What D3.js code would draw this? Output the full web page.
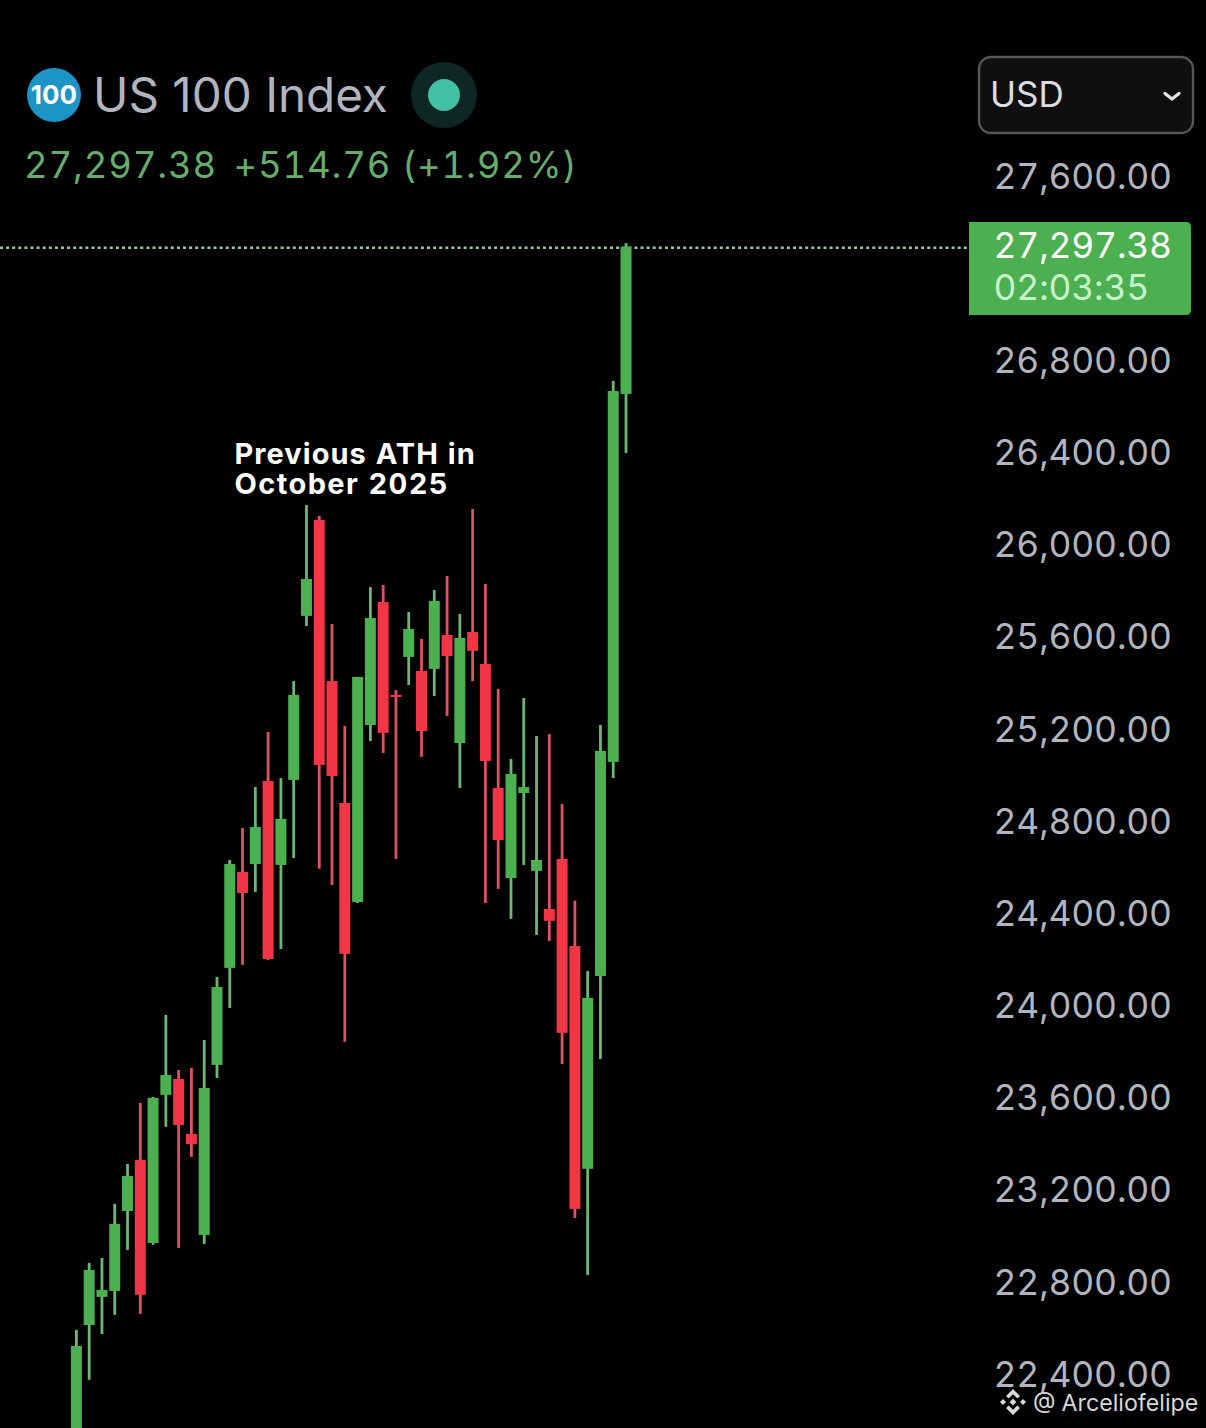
<!DOCTYPE html>
<html><head><meta charset="utf-8">
<script src="https://cdn.jsdelivr.net/npm/d3@7/dist/d3.min.js"></script>
<style>html,body{margin:0;padding:0;background:#000;overflow:hidden}svg{display:block}
text{font-family:Inter,Roboto,sans-serif!important;font-variant-numeric:tabular-nums;font-feature-settings:"tnum" 1}</style></head><body>
<svg id="c" width="1206" height="1428"></svg>
<script>
const opens =[22118,22617,22739,22765,23112,23334,22973,23616,23685,23446,23008,23746,24167,24584,24618,24978,24614,24983,25695,26111,25412,24883,24453,25221,25755,25352,25517,25456,25465,25612,25143,25625,25486,24948,24557,24926,24588,24423,24640,24262,23295,24132,25061,26658];
const closes=[22526,22856,22769,23056,23264,22748,23603,23702,23485,23403,23646,24084,24618,24492,24779,24206,24814,25352,25855,25048,25000,24228,25430,25686,25187,25343,25638,25195,25760,25521,25599,25543,25065,24722,25009,24952,24636,24371,23885,23121,24037,25109,26671,27297.38];
const highs =[22596,22887,22908,23143,23316,23581,23607,23963,23724,23733,23854,24128,24636,24774,24952,25191,24991,25412,26176,26129,25660,25217,25430,25820,25829,25373,25712,25595,25807,25868,25703,26159,25833,25378,25074,25339,25174,25182,24879,24458,24154,25221,26714,27313];
const lows  =[22075,22379,22578,22661,22943,22665,22965,23477,22952,23347,22969,23689,23993,24180,24497,24202,24249,24644,25651,24597,24527,23846,24449,25152,25100,24640,25395,25083,25347,25261,24948,25412,24449,24510,24380,24614,24310,24284,23750,23082,22834,23772,24991,26402];
const priceTicks=[27600,26800,26400,26000,25600,25200,24800,24400,24000,23600,23200,22800,22400];
const lastPrice=27297.38;
const titleText="US 100 Index";
const quoteText="27,297.38";
const changeText="+514.76 (+1.92%)";
const countdown="02:03:35";
const noteLines=["Previous ATH in","October 2025"];

const W=1206,H=1428;
const up="#4caf50",down="#f23645",upWick="#6db676",downWick="#dc5363";
const svg=d3.select("#c");
svg.append("rect").attr("width",W).attr("height",H).attr("fill","#000");

const y=d3.scaleLinear().domain([22400,27600]).range([1375,177]);
const x=d3.scaleBand().domain(d3.range(opens.length)).range([70,632.4]).paddingInner(0.14).paddingOuter(0.07);
const candles=opens.map((o,i)=>({i,o,c:closes[i],h:highs[i],l:lows[i]}));

// last price guide
svg.append("line").attr("x1",0).attr("x2",969).attr("y1",y(lastPrice)+1).attr("y2",y(lastPrice)+1)
  .attr("stroke","#97c79d").attr("stroke-width",2.4).attr("stroke-dasharray","3 3.1");

// candles
const g=svg.append("g").selectAll("g").data(candles).join("g");
g.append("line")
  .attr("x1",d=>x(d.i)+x.bandwidth()/2).attr("x2",d=>x(d.i)+x.bandwidth()/2)
  .attr("y1",d=>y(d.h)).attr("y2",d=>y(d.l))
  .attr("stroke",d=>d.c>=d.o?upWick:downWick).attr("stroke-width",2.8);
g.append("rect")
  .attr("x",d=>x(d.i)).attr("width",x.bandwidth())
  .attr("y",d=>y(Math.max(d.o,d.c)))
  .attr("height",d=>Math.max(2,Math.abs(y(d.o)-y(d.c))))
  .attr("fill",d=>d.c>=d.o?up:down);

// price axis
const axis=d3.axisRight(y).tickValues(priceTicks).tickSize(0).tickPadding(0).tickFormat(d3.format(",.2f"));
const ag=svg.append("g").attr("transform","translate(993.5,-1.6)").call(axis);
ag.select(".domain").remove();
ag.selectAll("text").attr("fill","#b2b5be").attr("font-size",35.5).attr("dy","0.36em").attr("letter-spacing",-0.2);

// price tag
const tag=d3.path();tag.moveTo(969,222);tag.lineTo(1186,222);tag.quadraticCurveTo(1191,222,1191,227);tag.lineTo(1191,310);tag.quadraticCurveTo(1191,315,1186,315);tag.lineTo(969,315);tag.closePath();
svg.append("path").attr("d",tag.toString()).attr("fill",up);
svg.append("text").attr("x",993.5).attr("y",258).attr("fill","#fff").attr("font-size",35.5).attr("letter-spacing",-0.2).text(d3.format(",.2f")(lastPrice));
svg.append("text").attr("x",993.5).attr("y",300).attr("fill","#c9f2cc").attr("font-size",35.5).attr("letter-spacing",-0.2).text(countdown);

// currency select
svg.append("rect").attr("x",979).attr("y",57).attr("width",214).attr("height",76).attr("rx",12)
  .attr("fill","#0f0f10").attr("stroke","#555658").attr("stroke-width",2.4);
svg.append("text").attr("x",990).attr("y",107).attr("fill","#dcdde0").attr("font-size",35).text("USD");
svg.append("path").attr("d","M1165 93.5L1172 99L1179 93.5").attr("fill","none").attr("stroke","#e4e4e4").attr("stroke-width",3.2).attr("stroke-linecap","round").attr("stroke-linejoin","round");

// header
svg.append("circle").attr("cx",54).attr("cy",95).attr("r",27).attr("fill","#1c94c6");
svg.append("text").attr("x",54).attr("y",104).attr("text-anchor","middle").attr("fill","#fff").attr("font-size",26).attr("font-weight",700).attr("style","font-variant-numeric:normal;font-feature-settings:normal").text("100");
svg.append("text").attr("x",93).attr("y",112).attr("fill","#b2b5be").attr("font-size",47.6).attr("style","font-variant-numeric:normal;font-feature-settings:normal").text(titleText);
svg.append("circle").attr("cx",444).attr("cy",95).attr("r",33).attr("fill","#0c2724");
svg.append("circle").attr("cx",444).attr("cy",95).attr("r",16).attr("fill","#42bfa5");
svg.append("text").attr("x",24).attr("y",178).attr("fill","#66ad6c").attr("font-size",36.5).attr("letter-spacing",0.85).text(quoteText);
svg.append("text").attr("x",233.5).attr("y",178).attr("fill","#66ad6c").attr("font-size",36.5).attr("letter-spacing",0.85).text(changeText);

// annotation
svg.append("g").selectAll("text").data(noteLines).join("text")
  .attr("x",234.5).attr("y",(d,i)=>464+i*30).attr("fill","#fff").attr("font-size",29).attr("font-weight",700)
  .attr("letter-spacing",(d,i)=>i?1.4:1.05).text(d=>d);

// watermark
const wm=svg.append("g").attr("transform","translate(1013,1402)").attr("fill","#d8d8d8");
wm.append("path").attr("d","M0 -13L7 -6L4.4 -3.4L0 -7.8L-4.4 -3.4L-7 -6Z");
wm.append("path").attr("d","M0 13L7 6L4.4 3.4L0 7.8L-4.4 3.4L-7 6Z");
wm.append("path").attr("d","M0 -3.4L3.4 0L0 3.4L-3.4 0Z");
wm.append("path").attr("d","M-13 0L-10 -3L-7 0L-10 3Z");
wm.append("path").attr("d","M13 0L10 -3L7 0L10 3Z");
svg.append("text").attr("x",1033).attr("y",1411).attr("fill","#d8d8d8").attr("font-size",23.2).text("@ Arceliofelipe");
</script></body></html>
